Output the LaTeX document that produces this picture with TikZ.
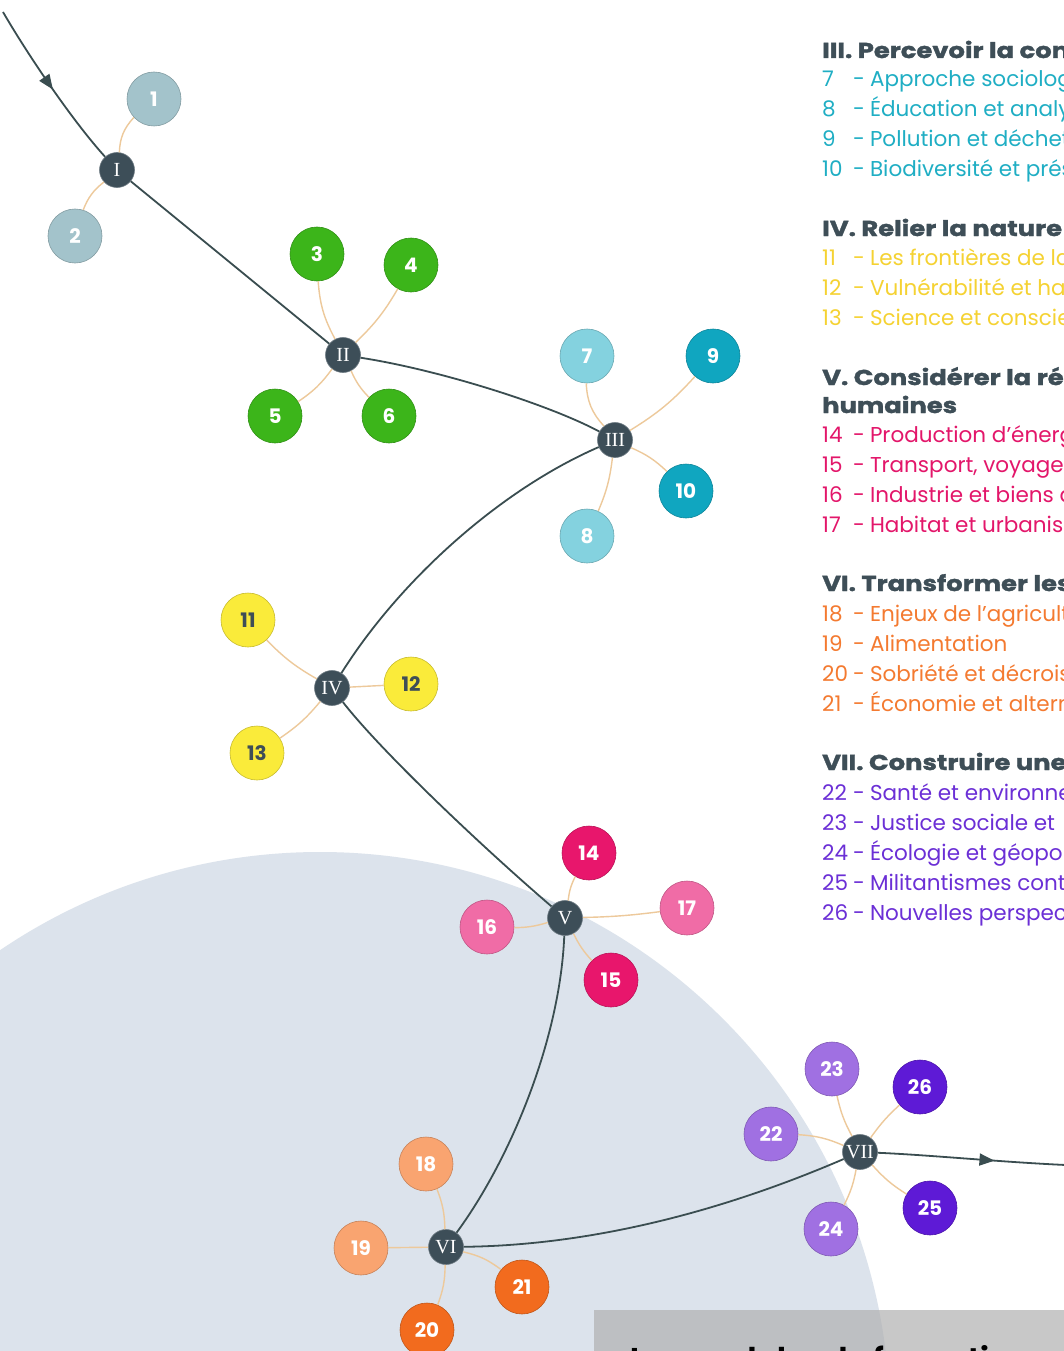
\documentclass[tikz,border=0pt]{standalone}
\usepackage{fontspec}
\setmainfont{Poppins}
\newfontfamily\romanfont{Liberation Serif}
\newfontfamily\headfont{Poppins}[FakeStretch=1.2,FakeBold=1.6]
\usetikzlibrary{arrows.meta,decorations.markings}

\definecolor{routegray}{HTML}{3A4D50}
\definecolor{hubgray}{HTML}{3D4E58}
\definecolor{headgray}{HTML}{3E4E57}
\definecolor{spoketan}{HTML}{EDC99B}
\definecolor{blobblue}{HTML}{DCE3EC}
\definecolor{panelgray}{HTML}{ADADAD}
\definecolor{mistc}{HTML}{A3C3CB}
\definecolor{greenc}{HTML}{3CB51A}
\definecolor{cyanlt}{HTML}{84D2DF}
\definecolor{cyandk}{HTML}{10A6C0}
\definecolor{yellowc}{HTML}{FAEB3A}
\definecolor{magdk}{HTML}{E8166C}
\definecolor{maglt}{HTML}{F06CA6}
\definecolor{orglt}{HTML}{F9A470}
\definecolor{orgdk}{HTML}{F26B1E}
\definecolor{purplt}{HTML}{A070E2}
\definecolor{purpdk}{HTML}{5E1AD6}
\definecolor{legteal}{HTML}{1FAEC4}
\definecolor{legyellow}{HTML}{F5D232}
\definecolor{legmag}{HTML}{E3166A}
\definecolor{legorange}{HTML}{F47A30}
\definecolor{legpurple}{HTML}{6B2FD6}

\newcommand\modline[2]{\makebox[31pt][l]{#1}-\hspace{5pt}#2}

\begin{document}
\begin{tikzpicture}[x=1pt,y=-1pt,
    route/.style={color=routegray, line width=1.8pt},
    midarrow/.style={postaction={decorate}, decoration={markings, mark=at position #1 with {\arrow{Triangle[length=15pt,width=12pt]}}}},
    hub/.style={circle, fill=hubgray, draw=hubgray!75!white, line width=0.6pt, minimum size=35pt, inner sep=0pt, text=white, font=\romanfont\fontsize{20}{20}\selectfont},
    leaf/.style={circle, fill=#1, draw=#1!80!black, line width=0.6pt, minimum size=54pt, inner sep=0pt, text=white, font=\fontsize{20}{20}\selectfont\bfseries},
    spoke/.style={draw=spoketan, line width=1.4pt},
    legtxt/.style={anchor=base west, inner sep=0pt, font=\fontsize{21.5}{26}\selectfont},
    leghead/.style={legtxt, text=headgray, font=\headfont\fontsize{21.5}{26}\selectfont\bfseries}]
  \useasboundingbox (0,0) rectangle (1064,1351);
  \clip (0,0) rectangle (1064,1351);
  \fill[white] (0,0) rectangle (1064,1351);

  % background disc and panel
  \fill[blobblue] (320,1422) circle[radius=570];
  \fill[panelgray, fill opacity=0.66] (594,1310) rectangle (1064,1351);
  \node[anchor=base west, inner sep=0pt, font=\fontsize{30}{30}\selectfont\bfseries] (caption) at (630,1369) {Les modules de formation};

  % hubs
  \node[hub] (hubI) at (117,170) {I};
  \node[hub] (hubII) at (343,355) {II};
  \node[hub] (hubIII) at (615,440) {III};
  \node[hub] (hubIV) at (332,688) {IV};
  \node[hub] (hubV) at (565,918) {V};
  \node[hub] (hubVI) at (446,1247) {VI};
  \node[hub] (hubVII) at (860,1152) {VII};
  \coordinate (start) at (3,12);
  \coordinate (finish) at (1066,1165);

  % main route
  \draw[route, midarrow=0.52] (start) .. controls (25,50) and (70,118) .. (hubI);
  \draw[route] (hubI) -- (hubII);
  \draw[route] (hubII) .. controls (440,370) and (550,405) .. (hubIII);
  \draw[route] (hubIII) .. controls (500,490) and (400,580) .. (hubIV);
  \draw[route] (hubIV) .. controls (380,750) and (480,845) .. (hubV);
  \draw[route] (hubV) .. controls (560,1040) and (510,1160) .. (hubVI);
  \draw[route] (hubVI) .. controls (620,1245) and (760,1195) .. (hubVII);
  \draw[route, midarrow=0.62] (hubVII) .. controls (930,1155) and (1000,1162) .. (finish);

  % module circles
  \node[leaf=mistc] (m1) at (154,99) {1};
  \node[leaf=mistc] (m2) at (75,236) {2};
  \node[leaf=greenc] (m3) at (317,254) {3};
  \node[leaf=greenc] (m4) at (411,265) {4};
  \node[leaf=greenc] (m5) at (275,416) {5};
  \node[leaf=greenc] (m6) at (389,416) {6};
  \node[leaf=cyanlt] (m7) at (587,356) {7};
  \node[leaf=cyanlt] (m8) at (587,536) {8};
  \node[leaf=cyandk] (m9) at (713,356) {9};
  \node[leaf=cyandk] (m10) at (686,491) {10};
  \node[leaf=yellowc, text=headgray] (m11) at (248,620) {11};
  \node[leaf=yellowc, text=headgray] (m12) at (411,684) {12};
  \node[leaf=yellowc, text=headgray] (m13) at (257,753) {13};
  \node[leaf=magdk] (m14) at (589,853) {14};
  \node[leaf=magdk] (m15) at (611,980) {15};
  \node[leaf=maglt] (m16) at (487,927) {16};
  \node[leaf=maglt] (m17) at (687,908) {17};
  \node[leaf=orglt] (m18) at (426,1164) {18};
  \node[leaf=orglt] (m19) at (361,1248) {19};
  \node[leaf=orgdk] (m20) at (427,1330) {20};
  \node[leaf=orgdk] (m21) at (522,1287) {21};
  \node[leaf=purplt] (m22) at (771,1134) {22};
  \node[leaf=purplt] (m23) at (832,1069) {23};
  \node[leaf=purplt] (m24) at (831,1229) {24};
  \node[leaf=purpdk] (m25) at (930,1208) {25};
  \node[leaf=purpdk] (m26) at (920,1087) {26};

  % spokes
  \draw[spoke] (hubI) to[bend left=20] (m1);
  \draw[spoke] (hubI) to[bend right=15] (m2);
  \draw[spoke] (hubII) to[bend left=12] (m3);
  \draw[spoke] (hubII) to[bend right=8] (m4);
  \draw[spoke] (hubII) to[bend left=10] (m5);
  \draw[spoke] (hubII) to[bend right=10] (m6);
  \draw[spoke] (hubIII) to[bend left=20] (m7);
  \draw[spoke] (hubIII) to[bend left=8] (m8);
  \draw[spoke] (hubIII) to[bend right=8] (m9);
  \draw[spoke] (hubIII) to[bend left=10] (m10);
  \draw[spoke] (hubIV) to[bend left=8] (m11);
  \draw[spoke] (hubIV) -- (m12);
  \draw[spoke] (hubIV) to[bend left=8] (m13);
  \draw[spoke] (hubV) to[bend left=10] (m14);
  \draw[spoke] (hubV) to[bend right=8] (m15);
  \draw[spoke] (hubV) to[bend left=8] (m16);
  \draw[spoke] (hubV) to[bend right=3] (m17);
  \draw[spoke] (hubVI) to[bend right=10] (m18);
  \draw[spoke] (hubVI) -- (m19);
  \draw[spoke] (hubVI) to[bend left=10] (m20);
  \draw[spoke] (hubVI) to[bend left=12] (m21);
  \draw[spoke] (hubVII) to[bend right=10] (m22);
  \draw[spoke] (hubVII) to[bend left=8] (m23);
  \draw[spoke] (hubVII) to[bend left=8] (m24);
  \draw[spoke] (hubVII) to[bend right=8] (m25);
  \draw[spoke] (hubVII) to[bend left=6] (m26);

  % legend III
  \node[leghead] (headIII) at (822,58) {III. Percevoir la complexité};
  \node[legtxt, text=legteal] (item7) at (822,87) {\modline{7}{Approche sociologique}};
  \node[legtxt, text=legteal] (item8) at (822,117) {\modline{8}{Éducation et analyse}};
  \node[legtxt, text=legteal] (item9) at (822,147) {\modline{9}{Pollution et déchets}};
  \node[legtxt, text=legteal] (item10) at (822,177) {\modline{10}{Biodiversité et préservation}};

  % legend IV
  \node[leghead] (headIV) at (822,236) {IV. Relier la nature et};
  \node[legtxt, text=legyellow] (item11) at (822,265) {\modline{11}{Les frontières de la}};
  \node[legtxt, text=legyellow] (item12) at (822,295) {\modline{12}{Vulnérabilité et harmonie}};
  \node[legtxt, text=legyellow] (item13) at (822,325) {\modline{13}{Science et conscience}};

  % legend V
  \node[leghead] (headV) at (822,385) {V. Considérer la réalité};
  \node[leghead] (headVb) at (822,413) {humaines};
  \node[legtxt, text=legmag] (item14) at (822,442) {\modline{14}{Production d'énergie}};
  \node[legtxt, text=legmag] (item15) at (822,472) {\modline{15}{Transport, voyages}};
  \node[legtxt, text=legmag] (item16) at (822,502) {\modline{16}{Industrie et biens de}};
  \node[legtxt, text=legmag] (item17) at (822,532) {\modline{17}{Habitat et urbanisme}};

  % legend VI
  \node[leghead] (headVI) at (822,591) {VI. Transformer les};
  \node[legtxt, text=legorange] (item18) at (822,621) {\modline{18}{Enjeux de l'agriculture}};
  \node[legtxt, text=legorange] (item19) at (822,651) {\modline{19}{Alimentation}};
  \node[legtxt, text=legorange] (item20) at (822,681) {\modline{20}{Sobriété et décroissance}};
  \node[legtxt, text=legorange] (item21) at (822,711) {\modline{21}{Économie et alternatives}};

  % legend VII
  \node[leghead] (headVII) at (822,770) {VII. Construire une};
  \node[legtxt, text=legpurple] (item22) at (822,800) {\modline{22}{Santé et environnement}};
  \node[legtxt, text=legpurple] (item23) at (822,830) {\modline{23}{Justice sociale et}};
  \node[legtxt, text=legpurple] (item24) at (822,860) {\modline{24}{Écologie et géopolitique}};
  \node[legtxt, text=legpurple] (item25) at (822,890) {\modline{25}{Militantismes contemporains}};
  \node[legtxt, text=legpurple] (item26) at (822,920) {\modline{26}{Nouvelles perspectives}};
\end{tikzpicture}
\end{document}
